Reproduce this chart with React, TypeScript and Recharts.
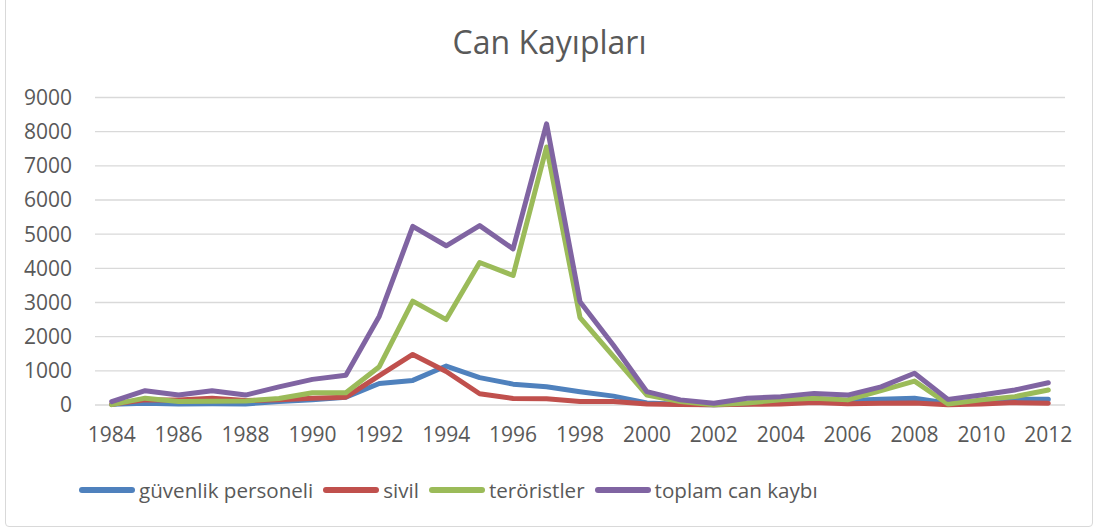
import { LineChart, Line, XAxis, YAxis, CartesianGrid } from 'recharts';

const years = [
  '1984', '1985', '1986', '1987', '1988', '1989', '1990', '1991', '1992', '1993',
  '1994', '1995', '1996', '1997', '1998', '1999', '2000', '2001', '2002', '2003',
  '2004', '2005', '2006', '2007', '2008', '2009', '2010', '2011', '2012',
];

const guvenlik = [
  20, 50, 30, 40, 30, 100, 150, 230, 630, 720,
  1140, 800, 610, 535, 390, 260, 60, 20, 10, 30,
  100, 150, 130, 165, 195, 50, 100, 165, 165,
];
const sivil = [
  20, 150, 150, 200, 130, 150, 200, 230, 860, 1480,
  980, 330, 190, 180, 100, 100, 30, 15, 5, 20,
  30, 70, 40, 50, 60, 10, 30, 70, 50,
];
const teroristler = [
  10, 200, 100, 110, 120, 190, 360, 360, 1120, 3040,
  2500, 4170, 3790, 7550, 2560, 1420, 290, 100, 10, 60,
  150, 195, 150, 420, 700, 30, 150, 245, 440,
];
const toplam = [
  100, 420, 290, 420, 290, 530, 750, 870, 2600, 5230,
  4660, 5250, 4570, 8230, 3020, 1750, 390, 150, 50, 195,
  245, 340, 290, 530, 930, 165, 290, 440, 650,
];

const yTicks = [0, 1000, 2000, 3000, 4000, 5000, 6000, 7000, 8000, 9000];

const series = [
  { key: 'guvenlik', name: 'güvenlik personeli', color: '#4F81BD' },
  { key: 'sivil', name: 'sivil', color: '#C0504D' },
  { key: 'teroristler', name: 'teröristler', color: '#9BBB59' },
  { key: 'toplam', name: 'toplam can kaybı', color: '#8064A2' },
];

const data = years.map((year, i) => ({
  year,
  guvenlik: guvenlik[i],
  sivil: sivil[i],
  teroristler: teroristler[i],
  toplam: toplam[i],
}));

const FONT = '"Open Sans", "Liberation Sans", sans-serif';
const TEXT = '#595959';

export default function App() {
  return (
    <div
      style={{
        position: 'absolute',
        left: 0,
        top: 0,
        width: 1099,
        height: 532,
        background: '#fff',
        fontFamily: FONT,
        overflow: 'hidden',
      }}
    >
      {/* chart frame */}
      <div
        style={{
          position: 'absolute',
          left: 5,
          top: -4,
          width: 1088,
          height: 531,
          border: '1px solid #d9d9d9',
          borderRadius: 4,
          boxSizing: 'border-box',
        }}
      />
      <div
        style={{
          position: 'absolute',
          left: 0,
          width: 1099,
          top: 20,
          textAlign: 'center',
          fontSize: 32,
          color: TEXT,
          lineHeight: '44px',
        }}
      >
        Can Kayıpları
      </div>
      <div style={{ position: 'absolute', left: 0, top: 0 }}>
        <LineChart
          width={1099}
          height={532}
          data={data}
          margin={{ top: 97.5, right: 34, bottom: 0, left: 0 }}
        >
          <CartesianGrid vertical={false} stroke="#d9d9d9" strokeWidth={1.3} />
          <XAxis
            dataKey="year"
            interval={1}
            axisLine={false}
            tickLine={false}
            tickSize={0}
            tickMargin={22}
            height={127}
            padding={{ left: 16.7, right: 16.7 }}
            tick={{ fill: TEXT, fontSize: 21, fontFamily: FONT }}
          />
          <YAxis
            domain={[0, 9000]}
            ticks={yTicks}
            width={95}
            axisLine={false}
            tickLine={false}
            tickSize={0}
            tickMargin={23}
            tick={{ fill: TEXT, fontSize: 21, fontFamily: FONT }}
          />
          {series.map(s => (
            <Line
              key={s.key}
              dataKey={s.key}
              name={s.name}
              stroke={s.color}
              strokeWidth={5}
              strokeLinejoin="round"
              strokeLinecap="round"
              dot={false}
              isAnimationActive={false}
            />
          ))}
        </LineChart>
      </div>
      {/* legend */}
      <div
        style={{
          position: 'absolute',
          left: 79,
          top: 475,
          height: 30,
          display: 'flex',
          alignItems: 'center',
          fontSize: 20.6,
          color: TEXT,
        }}
      >
        {series.map(s => (
          <div key={s.key} style={{ display: 'flex', alignItems: 'center', marginRight: 10 }}>
            <div
              style={{
                width: 56,
                height: 6,
                borderRadius: 3,
                background: s.color,
                marginRight: 4,
              }}
            />
            <span style={{ whiteSpace: 'nowrap' }}>{s.name}</span>
          </div>
        ))}
      </div>
    </div>
  );
}
